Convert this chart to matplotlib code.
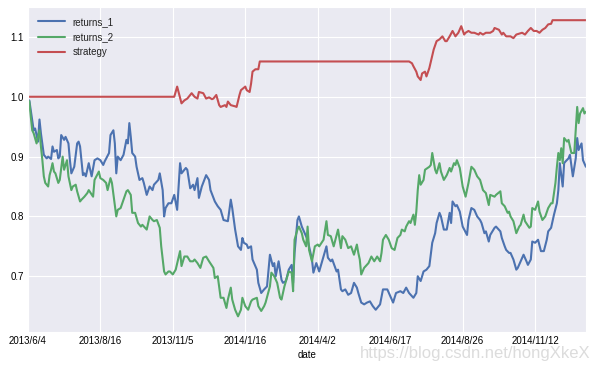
import matplotlib
matplotlib.use("Agg")
import matplotlib.pyplot as plt
import seaborn as sns
import numpy as np

# trading-day positions (0 = 2013/6/4) and values
r1_day = [0, 1, 4, 5, 7, 8, 9, 11, 13, 14, 16, 17, 18, 20, 21, 22, 23, 25, 26, 28,
          29, 30, 32, 34, 35, 36, 38, 39, 40, 42, 44, 46, 48, 50, 52, 53, 56, 57, 59, 60,
          61, 62, 64, 66, 68, 69, 70, 71, 72, 74, 75, 77, 79, 80, 82, 84, 86, 87, 90, 91,
          93, 94, 95, 97, 99, 101, 103, 105, 106, 109, 110, 112, 114, 115, 117, 118, 120, 123, 125, 126,
          129, 131, 133, 135, 138, 140, 141, 143, 145, 147, 148, 149, 151, 152, 154, 155, 158, 159, 161, 163,
          165, 167, 169, 170, 171, 173, 175, 176, 178, 180, 182, 183, 184, 186, 187, 189, 191, 193, 194, 196,
          197, 199, 201, 203, 204, 206, 207, 209, 210, 213, 214, 216, 217, 219, 221, 223, 225, 227, 228, 230,
          232, 234, 236, 238, 240, 243, 245, 248, 250, 252, 254, 257, 259, 261, 263, 266, 268, 269, 271, 273,
          275, 277, 279, 281, 282, 284, 285, 287, 289, 291, 292, 293, 295, 296, 298, 300, 303, 304, 306, 308,
          310, 312, 313, 315, 316, 318, 319, 322, 323, 326, 327, 329, 330, 332, 333, 335, 337, 338, 340, 342,
          344, 345, 347, 348, 350, 352, 354, 356, 358, 359, 361, 363, 365, 366, 367, 369, 370, 371, 373, 374,
          376, 378, 379, 380, 382, 383, 385]
returns_1 = [0.986, 0.994, 0.944, 0.947, 0.925, 0.962, 0.939, 0.903, 0.897, 0.900, 0.896, 0.917, 0.908, 0.911, 0.897, 0.900, 0.936, 0.928, 0.933, 0.922,
             0.894, 0.872, 0.883, 0.922, 0.925, 0.917, 0.869, 0.872, 0.867, 0.889, 0.867, 0.894, 0.897, 0.894, 0.886, 0.892, 0.906, 0.936, 0.944, 0.922,
             0.872, 0.900, 0.894, 0.903, 0.928, 0.922, 0.956, 0.933, 0.906, 0.900, 0.883, 0.861, 0.864, 0.856, 0.836, 0.850, 0.844, 0.853, 0.861, 0.872,
             0.844, 0.800, 0.814, 0.822, 0.822, 0.836, 0.811, 0.889, 0.872, 0.881, 0.878, 0.847, 0.853, 0.844, 0.864, 0.831, 0.850, 0.869, 0.861, 0.844,
             0.825, 0.817, 0.811, 0.794, 0.792, 0.828, 0.814, 0.778, 0.750, 0.744, 0.764, 0.756, 0.753, 0.747, 0.750, 0.728, 0.711, 0.689, 0.672, 0.678,
             0.683, 0.736, 0.717, 0.722, 0.700, 0.725, 0.694, 0.689, 0.692, 0.711, 0.719, 0.689, 0.739, 0.794, 0.800, 0.783, 0.772, 0.761, 0.750, 0.728,
             0.706, 0.722, 0.708, 0.725, 0.733, 0.750, 0.731, 0.725, 0.728, 0.708, 0.711, 0.678, 0.675, 0.678, 0.669, 0.672, 0.689, 0.681, 0.672, 0.656,
             0.653, 0.656, 0.658, 0.650, 0.644, 0.653, 0.678, 0.678, 0.667, 0.656, 0.672, 0.675, 0.672, 0.681, 0.672, 0.664, 0.672, 0.700, 0.692, 0.708,
             0.711, 0.717, 0.756, 0.772, 0.789, 0.806, 0.800, 0.778, 0.778, 0.806, 0.789, 0.825, 0.817, 0.819, 0.808, 0.783, 0.769, 0.794, 0.814, 0.811,
             0.800, 0.794, 0.789, 0.772, 0.775, 0.758, 0.769, 0.781, 0.783, 0.775, 0.764, 0.750, 0.744, 0.739, 0.739, 0.728, 0.711, 0.714, 0.725, 0.736,
             0.725, 0.719, 0.728, 0.758, 0.756, 0.761, 0.742, 0.742, 0.761, 0.775, 0.781, 0.803, 0.822, 0.844, 0.889, 0.850, 0.889, 0.892, 0.897, 0.903,
             0.867, 0.897, 0.931, 0.911, 0.922, 0.894, 0.883]

r2_day = [0, 1, 2, 3, 4, 6, 7, 8, 9, 10, 11, 12, 14, 15, 16, 17, 18, 19, 21, 22,
          24, 25, 27, 28, 30, 31, 33, 34, 36, 37, 39, 41, 42, 45, 46, 49, 50, 52, 54, 55,
          57, 58, 61, 62, 64, 66, 68, 69, 71, 72, 74, 76, 78, 79, 82, 84, 86, 87, 89, 91,
          92, 94, 95, 97, 98, 100, 102, 105, 106, 108, 110, 112, 114, 115, 117, 119, 121, 123, 125, 128,
          129, 131, 133, 135, 137, 138, 140, 141, 143, 145, 147, 148, 150, 152, 154, 155, 158, 159, 161, 163,
          164, 167, 168, 170, 172, 174, 175, 177, 179, 180, 182, 183, 184, 186, 187, 189, 190, 192, 193, 194,
          196, 198, 200, 201, 204, 206, 207, 209, 211, 214, 216, 217, 219, 221, 223, 225, 227, 228, 229, 230,
          232, 235, 237, 239, 241, 243, 244, 245, 247, 249, 251, 253, 255, 257, 258, 260, 261, 263, 264, 266,
          267, 268, 269, 270, 271, 273, 274, 277, 278, 279, 281, 282, 284, 285, 287, 289, 291, 292, 294, 295,
          296, 298, 300, 302, 304, 306, 308, 310, 312, 314, 316, 318, 319, 322, 323, 326, 327, 329, 331, 332,
          333, 335, 337, 339, 340, 342, 343, 346, 347, 348, 350, 352, 353, 355, 357, 359, 361, 362, 364, 365,
          366, 367, 368, 369, 370, 372, 373, 375, 377, 379, 380, 381, 383, 384, 385]
returns_2 = [0.994, 0.992, 0.967, 0.944, 0.939, 0.922, 0.933, 0.944, 0.917, 0.894, 0.867, 0.856, 0.850, 0.869, 0.878, 0.889, 0.875, 0.872, 0.856, 0.861,
             0.900, 0.878, 0.894, 0.867, 0.844, 0.850, 0.853, 0.842, 0.825, 0.828, 0.833, 0.839, 0.844, 0.833, 0.861, 0.875, 0.864, 0.861, 0.856, 0.844,
             0.864, 0.856, 0.800, 0.811, 0.814, 0.828, 0.842, 0.844, 0.836, 0.806, 0.806, 0.789, 0.783, 0.786, 0.778, 0.800, 0.794, 0.792, 0.794, 0.781,
             0.750, 0.708, 0.703, 0.708, 0.708, 0.703, 0.711, 0.742, 0.717, 0.733, 0.733, 0.725, 0.725, 0.728, 0.722, 0.714, 0.731, 0.733, 0.725, 0.714,
             0.697, 0.700, 0.664, 0.664, 0.647, 0.661, 0.681, 0.661, 0.644, 0.633, 0.644, 0.664, 0.650, 0.644, 0.658, 0.661, 0.664, 0.650, 0.642, 0.650,
             0.656, 0.683, 0.706, 0.700, 0.689, 0.664, 0.661, 0.683, 0.700, 0.708, 0.706, 0.675, 0.761, 0.778, 0.783, 0.772, 0.761, 0.750, 0.783, 0.744,
             0.725, 0.750, 0.753, 0.750, 0.761, 0.792, 0.769, 0.767, 0.750, 0.778, 0.747, 0.767, 0.761, 0.747, 0.750, 0.736, 0.753, 0.739, 0.728, 0.703,
             0.714, 0.722, 0.733, 0.725, 0.733, 0.725, 0.739, 0.761, 0.769, 0.761, 0.747, 0.744, 0.764, 0.769, 0.778, 0.775, 0.783, 0.792, 0.789, 0.803,
             0.786, 0.808, 0.844, 0.869, 0.853, 0.861, 0.878, 0.883, 0.886, 0.906, 0.878, 0.872, 0.889, 0.875, 0.861, 0.869, 0.881, 0.875, 0.889, 0.886,
             0.894, 0.881, 0.850, 0.833, 0.856, 0.883, 0.878, 0.867, 0.861, 0.844, 0.839, 0.819, 0.836, 0.833, 0.836, 0.842, 0.822, 0.817, 0.806, 0.808,
             0.800, 0.792, 0.772, 0.783, 0.786, 0.803, 0.792, 0.781, 0.783, 0.814, 0.811, 0.825, 0.808, 0.794, 0.800, 0.814, 0.822, 0.822, 0.856, 0.883,
             0.906, 0.894, 0.914, 0.889, 0.931, 0.925, 0.928, 0.906, 0.906, 0.983, 0.956, 0.972, 0.981, 0.972, 0.975]

st_day = [0, 101, 103, 106, 108, 110, 113, 115, 117, 118, 121, 123, 125, 127, 128, 130, 132, 133, 136, 137,
          138, 140, 143, 144, 146, 147, 150, 151, 153, 154, 155, 157, 159, 160, 263, 265, 266, 268, 269, 271,
          272, 274, 275, 277, 280, 282, 284, 286, 288, 289, 291, 293, 295, 297, 299, 301, 302, 304, 306, 308,
          311, 312, 314, 316, 319, 321, 322, 325, 327, 328, 330, 333, 335, 337, 341, 343, 345, 347, 349, 351,
          353, 355, 357, 359, 361, 362, 385]
strategy = [1.000, 1.000, 1.017, 0.989, 0.994, 0.997, 1.006, 1.000, 0.997, 1.008, 1.006, 0.997, 0.999, 0.996, 0.997, 1.003, 0.986, 0.983, 0.986, 0.983,
            0.992, 0.986, 0.984, 0.983, 1.003, 1.011, 1.017, 1.011, 1.008, 1.022, 1.042, 1.046, 1.046, 1.059, 1.059, 1.056, 1.051, 1.042, 1.034, 1.028,
            1.039, 1.042, 1.034, 1.048, 1.079, 1.093, 1.096, 1.101, 1.093, 1.093, 1.101, 1.110, 1.101, 1.107, 1.118, 1.104, 1.107, 1.110, 1.107, 1.107,
            1.104, 1.107, 1.104, 1.107, 1.107, 1.110, 1.115, 1.112, 1.104, 1.107, 1.101, 1.101, 1.098, 1.104, 1.107, 1.104, 1.110, 1.115, 1.110, 1.110,
            1.107, 1.112, 1.115, 1.121, 1.122, 1.128, 1.128]

tick_pos = [0, 50, 100, 150, 200, 250, 300, 350]
tick_labels = ["2013/6/4", "2013/8/16", "2013/11/5", "2014/1/16",
               "2014/4/2", "2014/6/17", "2014/8/26", "2014/11/12"]

sns.set_style("darkgrid")
plt.rcParams['font.family'] = ['Liberation Sans', 'DejaVu Sans']

fig = plt.figure(figsize=(5.93, 3.70), dpi=100)
ax = fig.add_axes([0.047, 0.103, 0.941, 0.878])

ax.plot(r1_day, returns_1, color='#4C72B0', lw=1.5, label='returns_1')
ax.plot(r2_day, returns_2, color='#55A868', lw=1.5, label='returns_2')
ax.plot(st_day, strategy, color='#C44E52', lw=1.5, label='strategy')

ax.set_xlim(0, 385)
ax.set_ylim(0.607, 1.150)
ax.set_xticks(tick_pos)
ax.set_xticklabels(tick_labels)
ax.set_yticks([0.7, 0.8, 0.9, 1.0, 1.1])
ax.tick_params(labelsize=7, pad=3, length=0, labelcolor='black')
ax.set_xlabel("date", fontsize=7, labelpad=3, color='black')

ax.legend(loc='upper left', fontsize=7, frameon=False, handlelength=2.8,
          labelspacing=0.55, borderaxespad=0.6, labelcolor='#222222')

fig.text(0.995, 0.045, "https://blog.csdn.net/hongXkeX", ha='right', va='center',
         fontsize=12, color='#dcdcdc')

fig.savefig("out.png", dpi=100, facecolor='white')
